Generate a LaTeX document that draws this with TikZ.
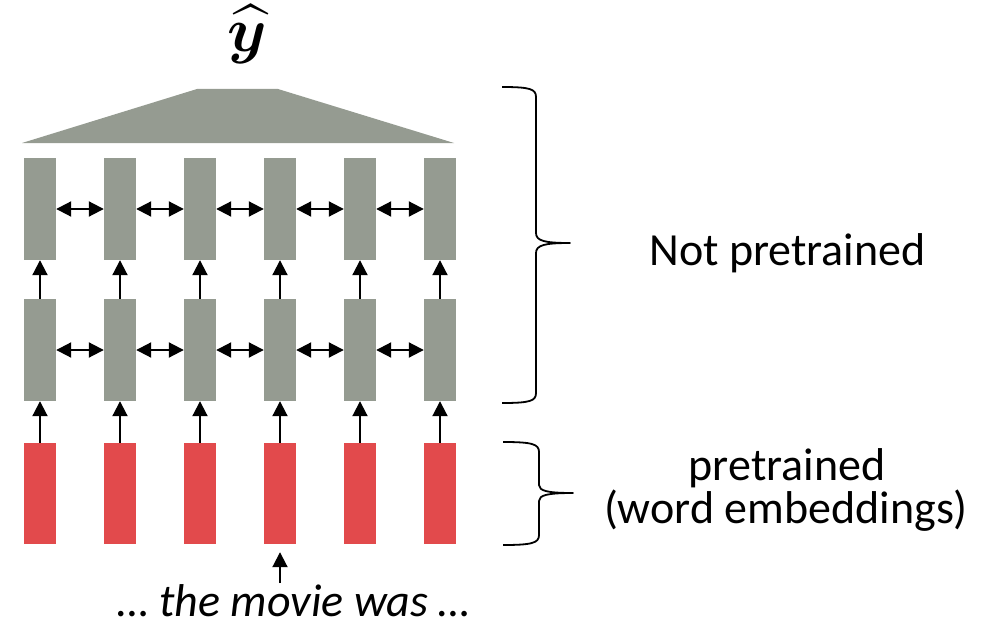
\documentclass[tikz,border=0pt]{standalone}
\usepackage{amsmath,bm}
\usepackage{graphicx}
\usepackage{fontspec}
\setmainfont{Carlito}
\usetikzlibrary{arrows.meta}
\definecolor{gbox}{RGB}{149,155,145}
\definecolor{rbox}{RGB}{226,74,76}
\begin{document}
\begin{tikzpicture}[x=1pt,y=-1pt,
  cell/.style={rectangle,inner sep=0pt,minimum width=32pt,minimum height=102pt},
  graycell/.style={cell,fill=gbox},
  redcell/.style={cell,fill=rbox,minimum height=101pt},
  conn/.style={line width=2pt,-{Triangle[length=15pt,width=15pt]}},
  biconn/.style={line width=2pt,{Triangle[length=15pt,width=15pt]}-{Triangle[length=15pt,width=15pt]}},
  bracestyle/.style={line width=1.8pt,line join=round},
  lbl/.style={font=\fontsize{46}{43}\selectfont,align=center,inner sep=0pt}]
\useasboundingbox (0,0) rectangle (1006,623);
% trapezoid
\fill[gbox] (22,143) -- (197,89) -- (278,89) -- (454,143) -- cycle;
\node[inner sep=0pt] (yhat) at (247,34) {\scalebox{6.3}{$\widehat{\bm{y}}$}};
% columns
\foreach \i/\x in {1/40,2/120,3/200,4/280,5/360,6/440}{
  \node[graycell] (a\i) at (\x,209) {};
  \node[graycell] (b\i) at (\x,350) {};
  \node[redcell] (r\i) at (\x,493.5) {};
}
\foreach \i in {1,...,6}{
  \draw[conn] (b\i.north) -- (a\i.south);
  \draw[conn] (r\i.north) -- (b\i.south);
}
\foreach \i/\j in {1/2,2/3,3/4,4/5,5/6}{
  \draw[biconn] (a\i.east) -- (a\j.west);
  \draw[biconn] (b\i.east) -- (b\j.west);
}
\coordinate (inp) at (280,583);
\draw[conn,shorten >=8pt] (inp) -- (r4.south);
\node[lbl,anchor=base,font=\fontsize{46}{46}\selectfont\itshape] (words) at (294,616) {… the movie was …};
% braces
\draw[bracestyle] (502,87) .. controls (530,87) and (536,89) .. (536,97) -- (536,233)
  .. controls (536,241) and (545,243) .. (570,243)
  .. controls (545,243) and (536,245) .. (536,253) -- (536,393)
  .. controls (536,401) and (530,403) .. (502,403);
\draw[bracestyle] (503,442) .. controls (532,442) and (539,444) .. (539,452) -- (539,485)
  .. controls (539,491) and (548,493) .. (573,493)
  .. controls (548,493) and (539,495) .. (539,501) -- (539,535)
  .. controls (539,543) and (532,545) .. (503,545);
\node[lbl,anchor=base] (np) at (787.5,265) {Not pretrained};
\node[lbl,anchor=base] (pt) at (787,480) {pretrained};
\node[lbl,anchor=base] (we) at (786,523) {(word embeddings)};
\end{tikzpicture}
\end{document}
